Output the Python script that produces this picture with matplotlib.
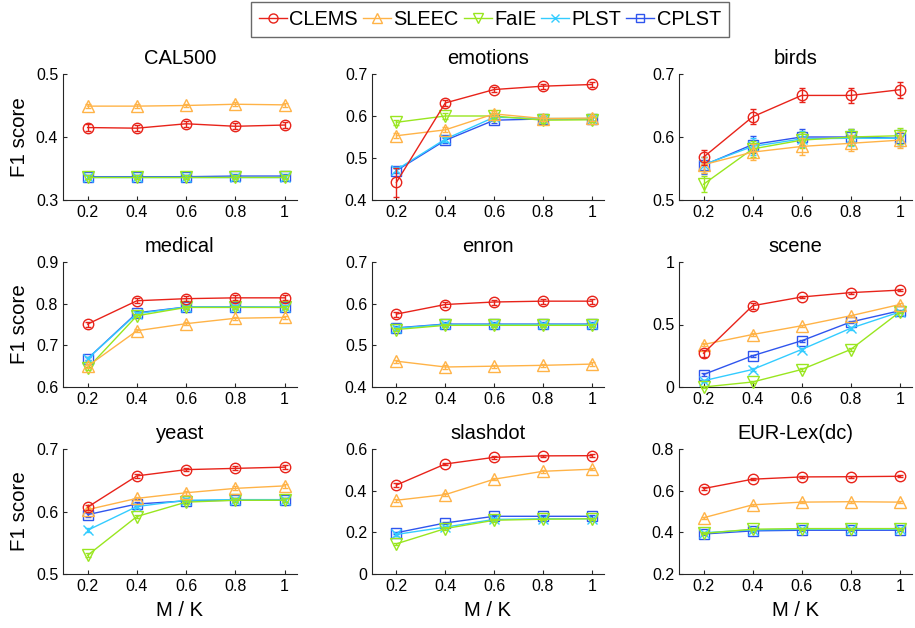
import numpy as np
import matplotlib
matplotlib.use("Agg")
import matplotlib.pyplot as plt
from matplotlib.lines import Line2D

plt.rcParams['font.family'] = ['Liberation Sans', 'DejaVu Sans']

## donnees
mk = [0.2, 0.4, 0.6, 0.8, 1.0]
methods = ["CLEMS", "SLEEC", "FaIE", "PLST", "CPLST"]
datasets = ["CAL500", "emotions", "birds", "medical", "enron", "scene",
            "yeast", "slashdot", "EUR-Lex(dc)"]

clems = [[0.415, 0.414, 0.421, 0.417, 0.419],
         [0.442, 0.631, 0.663, 0.671, 0.675],
         [0.568, 0.632, 0.666, 0.666, 0.675],
         [0.751, 0.807, 0.812, 0.814, 0.814],
         [0.575, 0.598, 0.604, 0.606, 0.606],
         [0.27, 0.65, 0.72, 0.755, 0.775],
         [0.607, 0.657, 0.667, 0.669, 0.671],
         [0.427, 0.528, 0.560, 0.567, 0.568],
         [0.610, 0.655, 0.666, 0.667, 0.669]]
sleec = [[0.449, 0.449, 0.450, 0.452, 0.451],
         [0.553, 0.567, 0.605, 0.594, 0.595],
         [0.556, 0.576, 0.585, 0.590, 0.595],
         [0.650, 0.735, 0.752, 0.765, 0.767],
         [0.462, 0.448, 0.450, 0.452, 0.455],
         [0.34, 0.42, 0.49, 0.57, 0.66],
         [0.603, 0.621, 0.630, 0.637, 0.641],
         [0.354, 0.381, 0.455, 0.493, 0.503],
         [0.470, 0.532, 0.545, 0.547, 0.545]]
faie = [[0.336, 0.336, 0.336, 0.336, 0.336],
        [0.585, 0.600, 0.600, 0.590, 0.591],
        [0.525, 0.581, 0.595, 0.600, 0.602],
        [0.645, 0.771, 0.791, 0.791, 0.791],
        [0.538, 0.548, 0.548, 0.548, 0.548],
        [0.0, 0.04, 0.14, 0.30, 0.60],
        [0.530, 0.592, 0.615, 0.618, 0.618],
        [0.145, 0.218, 0.258, 0.263, 0.265],
        [0.395, 0.415, 0.418, 0.418, 0.418]]
plst = [[0.337, 0.337, 0.337, 0.337, 0.337],
        [0.472, 0.545, 0.597, 0.594, 0.594],
        [0.556, 0.585, 0.597, 0.598, 0.598],
        [0.668, 0.776, 0.792, 0.792, 0.792],
        [0.541, 0.550, 0.550, 0.550, 0.550],
        [0.05, 0.14, 0.30, 0.47, 0.60],
        [0.570, 0.608, 0.618, 0.619, 0.619],
        [0.190, 0.225, 0.262, 0.265, 0.265],
        [0.398, 0.412, 0.415, 0.415, 0.415]]
cplst = [[0.337, 0.337, 0.337, 0.338, 0.338],
         [0.470, 0.542, 0.590, 0.593, 0.593],
         [0.555, 0.588, 0.600, 0.600, 0.598],
         [0.668, 0.778, 0.792, 0.792, 0.791],
         [0.542, 0.551, 0.551, 0.551, 0.551],
         [0.10, 0.25, 0.37, 0.52, 0.61],
         [0.595, 0.612, 0.617, 0.618, 0.618],
         [0.198, 0.245, 0.277, 0.277, 0.277],
         [0.392, 0.407, 0.410, 0.410, 0.410]]

# ecart-type (approx)
err_clems = [[0.005, 0.005, 0.005, 0.005, 0.005],
             [0.035, 0.007, 0.007, 0.006, 0.006],
             [0.012, 0.012, 0.011, 0.012, 0.013],
             [0.006, 0.006, 0.006, 0.006, 0.006],
             [0.006, 0.006, 0.006, 0.006, 0.006],
             [0.03, 0.025, 0.01, 0.008, 0.008],
             [0.004, 0.003, 0.003, 0.003, 0.003],
             [0.008, 0.007, 0.006, 0.006, 0.006],
             [0.006, 0.006, 0.005, 0.005, 0.005]]
err_other = [0.003, 0.006, 0.013, 0.004, 0.004, 0.01, 0.003, 0.006, 0.005]

ylims = [(0.3, 0.5), (0.4, 0.7), (0.5, 0.7), (0.6, 0.9), (0.4, 0.7),
         (0, 1), (0.5, 0.7), (0, 0.6), (0.2, 0.8)]
yticks = [[0.3, 0.4, 0.5], [0.4, 0.5, 0.6, 0.7], [0.5, 0.6, 0.7],
          [0.6, 0.7, 0.8, 0.9], [0.4, 0.5, 0.6, 0.7], [0, 0.5, 1],
          [0.5, 0.6, 0.7], [0, 0.2, 0.4, 0.6], [0.2, 0.4, 0.6, 0.8]]

colors = ['#e8231a', '#ffb347', '#99e61f', '#33ccff', '#2f55ee']
markers = ['o', '^', 'v', 'x', 's']
msizes = [7.5, 8, 8, 6.5, 7]

W, H = 915, 628
fig = plt.figure(figsize=(W/100, H/100), dpi=100)

colx = [(63, 297), (372, 604), (679, 912)]
rowy = [(74, 200), (262, 387), (449, 574)]

for i, name in enumerate(datasets):
    r, c = i // 3, i % 3
    x0, x1 = colx[c]
    y0, y1 = rowy[r]
    ax = fig.add_axes([x0/W, 1-y1/H, (x1-x0)/W, (y1-y0)/H])
    series = [clems[i], sleec[i], faie[i], plst[i], cplst[i]]
    for k in range(5):
        e = err_clems[i] if k == 0 else err_other[i]
        ax.errorbar(mk, series[k], yerr=e, color=colors[k], marker=markers[k],
                    mfc='none', ms=msizes[k], lw=1, mew=1,
                    capsize=2.5, elinewidth=1, zorder=10-k, clip_on=False)
    ax.set_xlim(0.1, 1.05)
    ax.set_ylim(*ylims[i])
    ax.set_xticks(mk)
    ax.set_xticklabels(['0.2', '0.4', '0.6', '0.8', '1'])
    ax.set_yticks(yticks[i])
    ax.set_yticklabels([('%g' % t) for t in yticks[i]])
    ax.spines['top'].set_visible(False)
    ax.spines['right'].set_visible(False)
    ax.spines['left'].set_color('#262626')
    ax.spines['bottom'].set_color('#262626')
    ax.tick_params(direction='in', length=3, labelsize=11.5, colors='#262626',
                   labelcolor='black')
    ax.set_title(name, fontsize=14.5, pad=7)
    if c == 0:
        ax.set_ylabel('F1 score', fontsize=14.8, labelpad=5)
    if r == 2:
        ax.set_xlabel('M / K', fontsize=14.5, labelpad=5)

handles = [Line2D([], [], color=colors[k], marker=markers[k], mfc='none',
                  ms=msizes[k] - 1, lw=1, mew=1) for k in range(5)]
leg = fig.legend(handles, methods, loc='upper center', bbox_to_anchor=(490/W, 1-2/H),
                 ncol=5, fontsize=14.4, frameon=True, fancybox=False,
                 edgecolor='#444444', handlelength=1.4, handletextpad=0.12,
                 columnspacing=0.25, borderpad=0.4, borderaxespad=0)
leg.get_frame().set_linewidth(1)

fig.savefig("out.png", dpi=100)
